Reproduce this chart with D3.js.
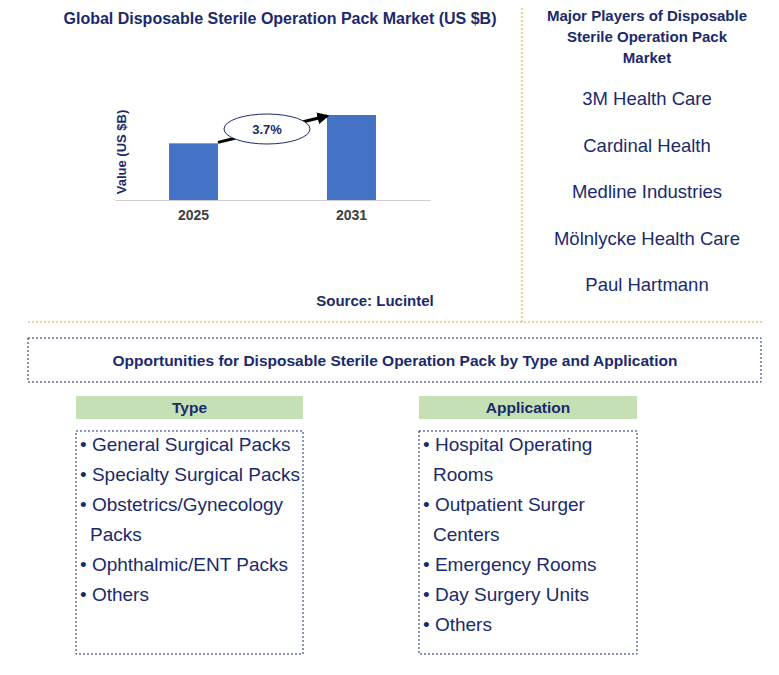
<!DOCTYPE html>
<html><head><meta charset="utf-8">
<script src="https://cdn.jsdelivr.net/npm/d3@7"></script>
<style>body{margin:0;background:#fff;font-family:Arial,"Liberation Sans",sans-serif}</style>
</head><body><svg id="c" width="779" height="675"></svg>
<script>
const years = ['2025', '2031'];
const values = [2.0, 3.0];
const cagr = '3.7%';
const players = ['3M Health Care', 'Cardinal Health', 'Medline Industries', 'Mölnlycke Health Care', 'Paul Hartmann'];
const types = [['General Surgical Packs'], ['Specialty Surgical Packs'], ['Obstetrics/Gynecology', 'Packs'], ['Ophthalmic/ENT Packs'], ['Others']];
const apps = [['Hospital Operating', 'Rooms'], ['Outpatient Surger', 'Centers'], ['Emergency Rooms'], ['Day Surgery Units'], ['Others']];

const svg = d3.select('#c');
const navy = '#1a2a6c', gold = '#d4a62a', blue = '#4472c4';

svg.append('text').attr('x', 280).attr('y', 24).attr('text-anchor', 'middle')
    .attr('font-size', 16).attr('font-weight', 'bold').attr('fill', navy)
    .text('Global Disposable Sterile Operation Pack Market (US $B)');

const x = d3.scaleBand().domain(years).range([115, 430]).paddingInner(0.69).paddingOuter(0.342);
const y = d3.scaleLinear().domain([0, 3.0]).range([200, 115]);

svg.append('g').attr('transform', 'translate(0,200)')
    .call(d3.axisBottom(x).tickSize(0).tickPadding(10))
    .call(g => g.select('.domain').attr('stroke', '#ccc'))
    .call(g => g.selectAll('text').attr('font-size', 14).attr('font-weight', 'bold').attr('fill', '#404040').attr('font-family', 'Arial'));

svg.selectAll('rect.bar').data(values).enter().append('rect').attr('class', 'bar')
    .attr('x', (d, i) => x(years[i])).attr('width', x.bandwidth())
    .attr('y', d => y(d)).attr('height', d => 200 - y(d)).attr('fill', blue);

svg.append('text').attr('transform', 'translate(126,152) rotate(-90)').attr('text-anchor', 'middle')
    .attr('font-size', 13).attr('font-weight', 'bold').attr('fill', navy).text('Value (US $B)');

svg.append('defs').append('marker').attr('id', 'ah').attr('viewBox', '0 0 10 10')
    .attr('refX', 8).attr('refY', 5).attr('markerWidth', 4).attr('markerHeight', 4).attr('orient', 'auto')
    .append('path').attr('d', 'M0,0L10,5L0,10z').attr('fill', '#000');
svg.append('line').attr('x1', x(years[0]) + x.bandwidth()).attr('y1', y(values[0]) - 1)
    .attr('x2', x(years[1])).attr('y2', y(values[1]) + 1)
    .attr('stroke', '#000').attr('stroke-width', 3).attr('marker-end', 'url(#ah)');
svg.append('ellipse').attr('cx', 267).attr('cy', 129).attr('rx', 43).attr('ry', 15)
    .attr('fill', '#fff').attr('stroke', navy);
svg.append('text').attr('x', 267).attr('y', 134).attr('text-anchor', 'middle')
    .attr('font-size', 13).attr('font-weight', 'bold').attr('fill', navy).text(cagr);

svg.append('text').attr('x', 375).attr('y', 306).attr('text-anchor', 'middle')
    .attr('font-size', 15).attr('font-weight', 'bold').attr('fill', navy).text('Source: Lucintel');

// dividers
svg.append('line').attr('x1', 522).attr('x2', 522).attr('y1', 8).attr('y2', 322)
    .attr('stroke', gold).attr('stroke-dasharray', '2,2');
svg.append('line').attr('x1', 28).attr('x2', 762).attr('y1', 322).attr('y2', 322)
    .attr('stroke', gold).attr('stroke-dasharray', '2,2');

// players
['Major Players of Disposable', 'Sterile Operation Pack', 'Market'].forEach((t, i) =>
    svg.append('text').attr('x', 647).attr('y', 21 + i * 21).attr('text-anchor', 'middle')
        .attr('font-size', 15).attr('font-weight', 'bold').attr('fill', navy).text(t));
svg.selectAll('text.pl').data(players).enter().append('text').attr('class', 'pl')
    .attr('x', 647).attr('y', (d, i) => 105 + i * 46.5).attr('text-anchor', 'middle')
    .attr('font-size', 18.5).attr('fill', navy).text(d => d);

// opportunities
svg.append('rect').attr('x', 28).attr('y', 338).attr('width', 733).attr('height', 44)
    .attr('fill', 'none').attr('stroke', navy).attr('stroke-dasharray', '2,2');
svg.append('text').attr('x', 395).attr('y', 366).attr('text-anchor', 'middle')
    .attr('font-size', 15.5).attr('font-weight', 'bold').attr('fill', navy)
    .text('Opportunities for Disposable Sterile Operation Pack by Type and Application');

function panel(x0, w, title, items) {
    svg.append('rect').attr('x', x0).attr('y', 396).attr('width', w).attr('height', 23).attr('fill', '#c5e0b4');
    svg.append('text').attr('x', x0 + w / 2).attr('y', 413).attr('text-anchor', 'middle')
        .attr('font-size', 15.5).attr('font-weight', 'bold').attr('fill', navy).text(title);
    svg.append('rect').attr('x', x0).attr('y', 431).attr('width', w).attr('height', 223)
        .attr('fill', 'none').attr('stroke', navy).attr('stroke-dasharray', '2,2');
    let row = 0;
    items.forEach(lines => lines.forEach((t, j) => {
        svg.append('text').attr('x', x0 + (j ? 14 : 4)).attr('y', 451 + row * 30)
            .attr('font-size', 19).attr('fill', navy).text(j ? t : '• ' + t);
        row++;
    }));
}
panel(76, 227, 'Type', types);
panel(419, 218, 'Application', apps);
</script></body></html>
